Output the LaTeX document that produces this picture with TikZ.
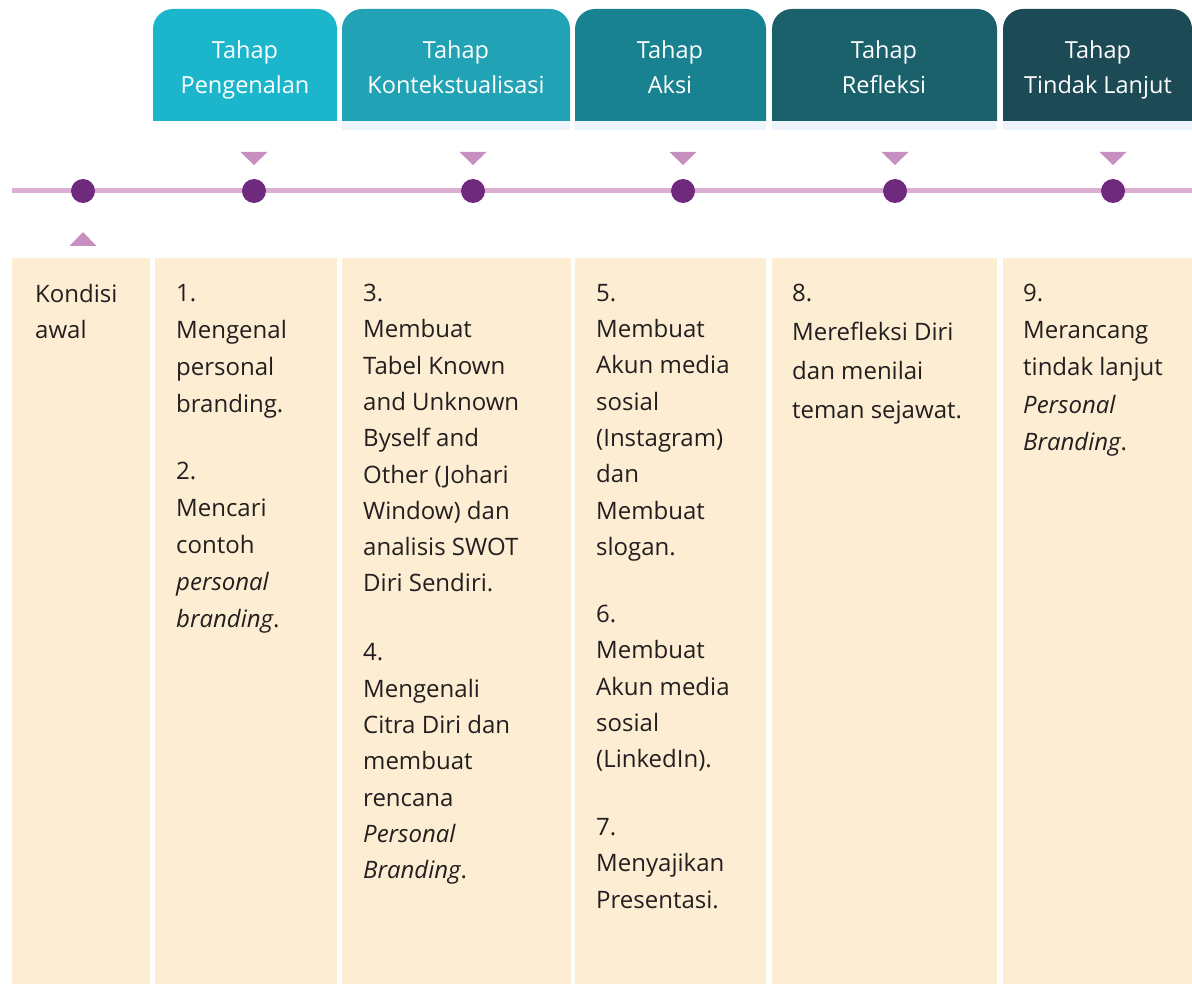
\documentclass[tikz,border=0pt]{standalone}
\usepackage{fontspec}
\setmainfont{Open Sans}
\usepackage{tikz}
\usetikzlibrary{positioning}
\definecolor{krem}{HTML}{FDEDD3}
\definecolor{garis}{HTML}{DCAED3}
\definecolor{titik}{HTML}{6F2A7E}
\definecolor{segitiga}{HTML}{C68FBF}
\definecolor{pita}{HTML}{EEF4FB}
\definecolor{tinta}{HTML}{231F20}
\definecolor{hA}{HTML}{1BB6CC}
\definecolor{hB}{HTML}{22A3B5}
\definecolor{hC}{HTML}{198290}
\definecolor{hD}{HTML}{1A616B}
\definecolor{hE}{HTML}{1C4A55}
\tikzstyle{judul} = [anchor=north, inner sep=0pt, text=white, align=center, font=\fontsize{23.5}{35}\selectfont]
\tikzstyle{isi} = [anchor=north west, align=left, inner sep=0pt, text=tinta, font=\fontsize{24}{36.3}\selectfont]
\tikzstyle{isilebar} = [isi, font=\fontsize{24}{37.2}\selectfont]
\tikzstyle{bulat} = [circle, fill=titik, minimum size=24pt, inner sep=0pt]
\tikzstyle{kolom} = [fill=krem]

\begin{document}
\begin{tikzpicture}[x=1pt, y=-1pt]
		\useasboundingbox (0,0) rectangle (1192,984);
		% kolom krem
		\fill[kolom] (12,258) rectangle (150,984);
		\fill[kolom] (155,258) rectangle (337,984);
		\fill[kolom] (342,258) rectangle (571,984);
		\fill[kolom] (575,258) rectangle (766,984);
		\fill[kolom] (772,258) rectangle (997,984);
		\fill[kolom] (1003,258) rectangle (1192,984);
		% pita bawah judul
		\fill[pita] (342,121) rectangle (570,130);
		\fill[pita] (575,121) rectangle (766,130);
		\fill[pita] (772,121) rectangle (997,130);
		\fill[pita] (1003,121) rectangle (1192,130);
		% kepala tahap
		\fill[hA, rounded corners=20pt] (153,121) -- (153,9) -- (337,9) [sharp corners] -- (337,121) -- cycle;
		\fill[hB, rounded corners=20pt] (342,121) -- (342,9) -- (570,9) [sharp corners] -- (570,121) -- cycle;
		\fill[hC, rounded corners=20pt] (575,121) -- (575,9) -- (766,9) [sharp corners] -- (766,121) -- cycle;
		\fill[hD, rounded corners=20pt] (772,121) -- (772,9) -- (997,9) [sharp corners] -- (997,121) -- cycle;
		\fill[hE, rounded corners=20pt] (1003,121) -- (1003,9) -- (1192,9) [sharp corners] -- (1192,121) -- cycle;
		\node (hPengenalan) [judul] at (245,40) {Tahap\\Pengenalan};
		\node (hKonteks) [judul] at (456,40) {Tahap\\Kontekstualisasi};
		\node (hAksi) [judul] at (670,40) {Tahap\\Aksi};
		\node (hRefleksi) [judul] at (884,40) {Tahap\\Refleksi};
		\node (hLanjut) [judul] at (1098,40) {Tahap\\Tindak Lanjut};
		% garis waktu
		\coordinate (awal) at (12,191);
		\coordinate (akhir) at (1192,191);
		\draw[garis, line width=5pt] (awal) -- (akhir);
		\node (d0) [bulat] at (83,191) {};
		\node (d1) [bulat] at (254,191) {};
		\node (d2) [bulat] at (473,191) {};
		\node (d3) [bulat] at (683,191) {};
		\node (d4) [bulat] at (895,191) {};
		\node (d5) [bulat] at (1113,191) {};
		\foreach \x in {254,473,683,895,1113}
			\fill[segitiga] (\x-13.5,152) -- (\x+13.5,152) -- (\x,165) -- cycle;
		\fill[segitiga] (83-13.5,246) -- (83+13.5,246) -- (83,232) -- cycle;
		% isi kolom
		\node (kondisi) [isi] at (35,284) {Kondisi\\awal};
		\node (pengenalan) [isilebar] at (176,284) {1.\\Mengenal\\personal\\branding.\\[29pt]
			2.\\Mencari\\contoh\\\textit{personal}\\\textit{branding}.};
		\node (konteks) [isi] at (363,284) {3.\\Membuat\\Tabel Known\\and Unknown\\Byself and\\Other (Johari\\Window) dan\\analisis SWOT\\Diri Sendiri.\\[32.7pt]
			4.\\Mengenali\\Citra Diri dan\\membuat\\rencana\\\textit{Personal}\\\textit{Branding}.};
		\node (aksi) [isi] at (596,284) {5.\\Membuat\\Akun media\\sosial\\(Instagram)\\dan\\Membuat\\slogan.\\[30.7pt]
			6.\\Membuat\\Akun media\\sosial\\(LinkedIn).\\[31.7pt]
			7.\\Menyajikan\\Presentasi.};
		\node (refleksi) [isi, font=\fontsize{24}{39}\selectfont] at (792,284) {8.\\Merefleksi Diri\\dan menilai\\teman sejawat.};
		\node (lanjut) [isilebar] at (1023,284) {9.\\Merancang\\tindak lanjut\\\textit{Personal}\\\textit{Branding}.};
	\end{tikzpicture}
\end{document}
